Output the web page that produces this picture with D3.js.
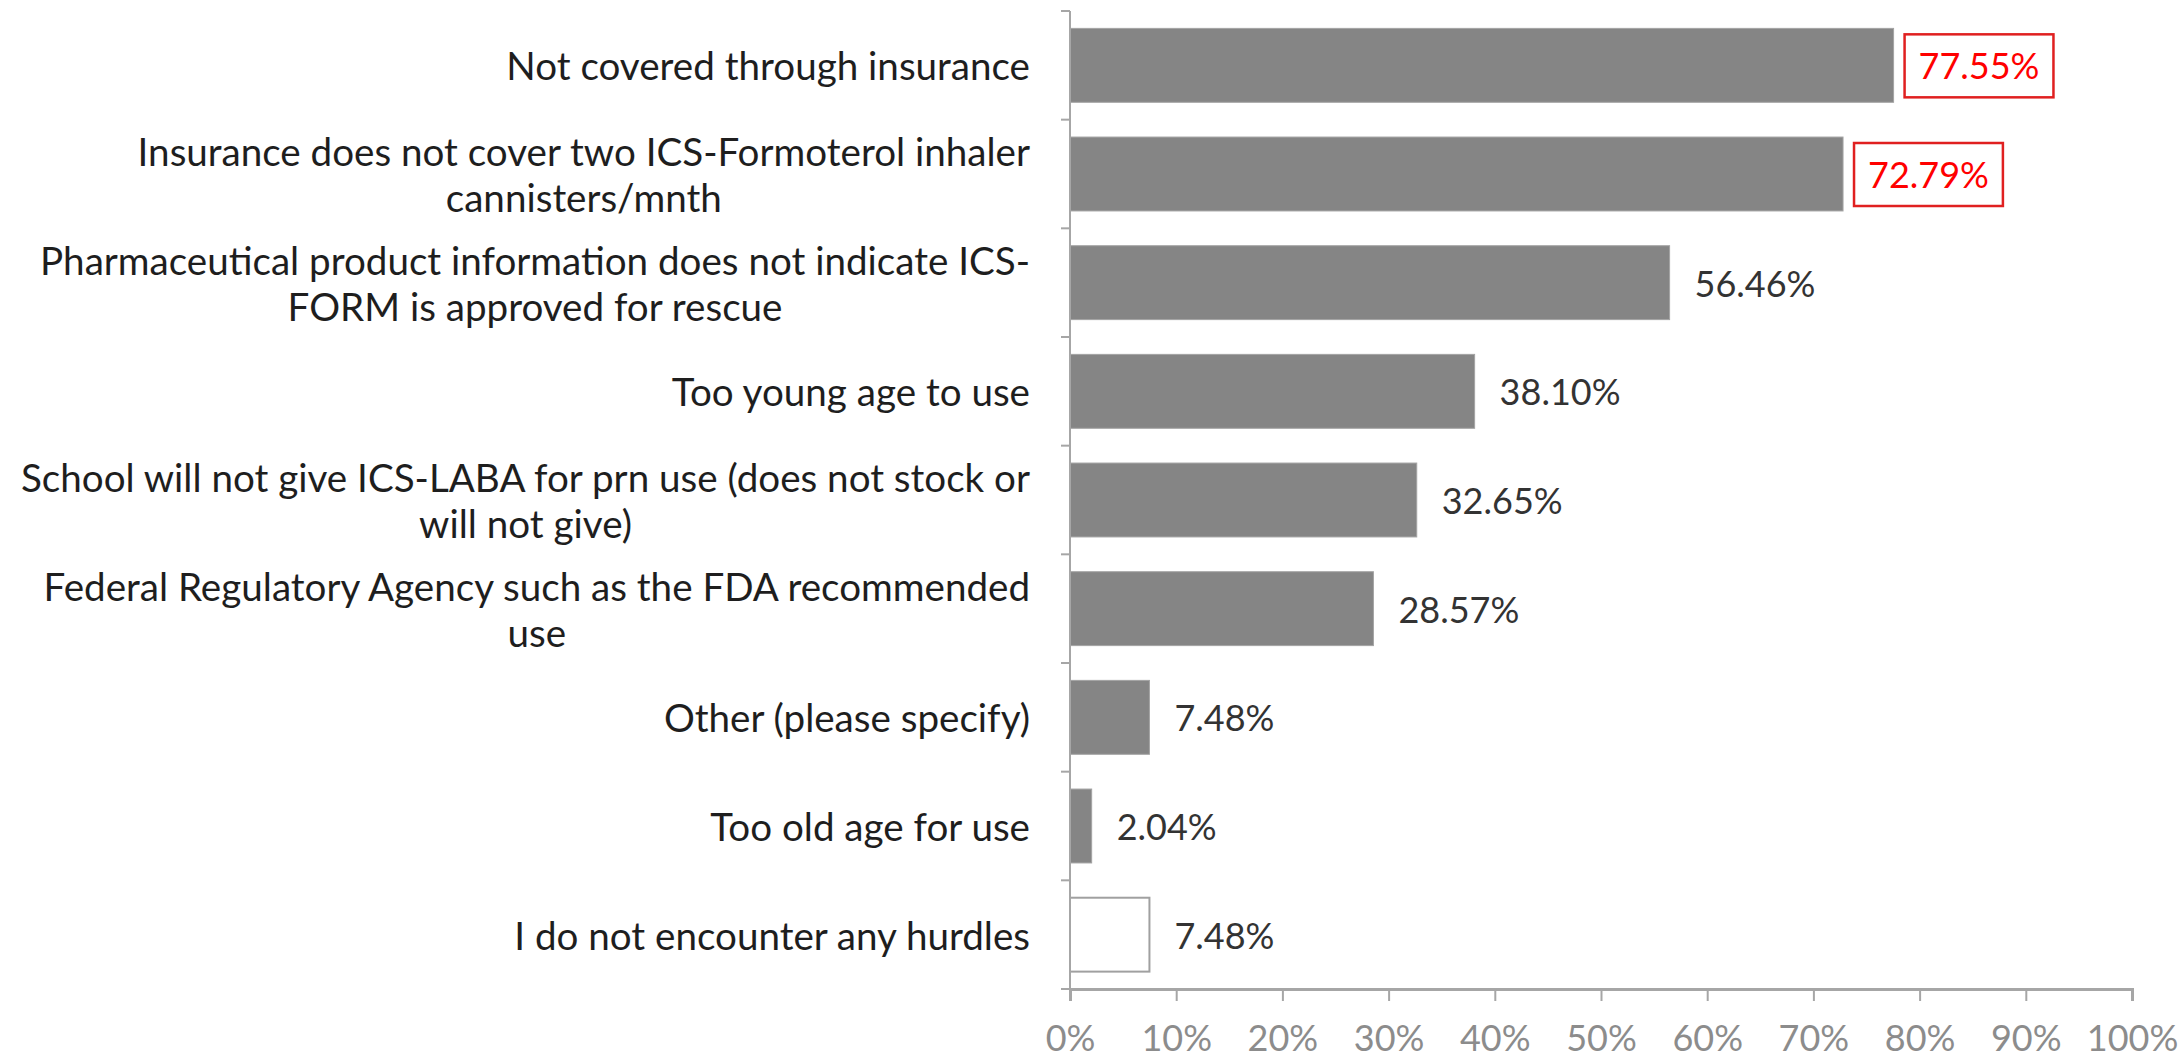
<!DOCTYPE html>
<html>
<head>
<meta charset="utf-8">
<script src="https://cdn.jsdelivr.net/npm/d3@7"></script>
<style>
  html, body { margin: 0; padding: 0; background: #ffffff; }
  svg { display: block; }
</style>
</head>
<body>
<svg id="chart" width="2182" height="1058"></svg>
<script>
// chart data
const categories =
  [
    ['Not covered through insurance'],
    ['Insurance does not cover two ICS-Formoterol inhaler', 'cannisters/mnth'],
    ['Pharmaceutical product information does not indicate ICS-', 'FORM is approved for rescue'],
    ['Too young age to use'],
    ['School will not give ICS-LABA for prn use (does not stock or', 'will not give)'],
    ['Federal Regulatory Agency such as the FDA recommended', 'use'],
    ['Other (please specify)'],
    ['Too old age for use'],
    ['I do not encounter any hurdles']
  ];

const values    = [77.55, 72.79, 56.46, 38.10, 32.65, 28.57, 7.48, 2.04, 7.48];
const boxed     = [true, true, false, false, false, false, false, false, false];
const hollow    = [false, false, false, false, false, false, false, false, true];
const tickLabels = ['0%', '10%', '20%', '30%', '40%', '50%', '60%', '70%', '80%', '90%', '100%'];
const tickValues = [0, 10, 20, 30, 40, 50, 60, 70, 80, 90, 100];


const option =
  {
    font:  { family: 'Lato, "Open Sans", sans-serif', size: 36, color: '#333333' },
    label: { size: 38.6, color: '#1e1e1e', line: 46 },
    plot:  { left: 1070, right: 2132, top: 11, bottom: 989 },
    bar:   { fill: '#858585', stroke: '#a3a3a3', hollow: '#ffffff' },
    axis:  { color: '#a6a6a6', label: '#8c8c8c' }
  };

const svg = d3.select('#chart');

const rows = values.map((v, i) => ({ index: i, lines: categories[i], value: v, boxed: boxed[i], hollow: hollow[i] }));

const x = d3.scaleLinear()
  .domain([0, 100])
  .range([option.plot.left, option.plot.right])
;

const y = d3.scaleBand()
  .domain(rows.map(d => d.index))
  .range([option.plot.top, option.plot.bottom])
  .paddingInner(0.32)
  .paddingOuter(0.16)
;

const step = y.step();

// bars
svg.append('g')
  .selectAll('rect')
  .data(rows)
  .join('rect')
    .attr('x', x(0))
    .attr('y', d => y(d.index))
    .attr('width', d => x(d.value) - x(0))
    .attr('height', y.bandwidth())
    .attr('fill', d => d.hollow ? option.bar.hollow : option.bar.fill)
    .attr('stroke', d => d.hollow ? '#a0a0a0' : option.bar.stroke)
    .attr('stroke-width', d => d.hollow ? 2 : 1)
;

// y axis line + category boundary ticks
const yAxis = svg.append('g');

yAxis.append('line')
  .attr('x1', x(0))
  .attr('x2', x(0))
  .attr('y1', option.plot.top)
  .attr('y2', option.plot.bottom)
  .attr('stroke', option.axis.color)
  .attr('stroke-width', 2)
;

yAxis.selectAll('line.tick')
  .data(d3.range(rows.length + 1))
  .join('line')
    .attr('class', 'tick')
    .attr('x1', x(0) - 9)
    .attr('x2', x(0))
    .attr('y1', i => option.plot.top + i * step)
    .attr('y2', i => option.plot.top + i * step)
    .attr('stroke', option.axis.color)
    .attr('stroke-width', 2)
;

// x axis
const xAxis = svg.append('g')
  .attr('transform', `translate( 0 ${ option.plot.bottom } )`)
  .call(d3.axisBottom(x)
    .tickValues(tickValues)
    .tickFormat((d, i) => tickLabels[i])
    .tickSize(12)
    .tickPadding(24)
  )
;

xAxis.select('.domain')
  .attr('stroke', option.axis.color)
  .attr('stroke-width', 3)
;

xAxis.selectAll('.tick line')
  .attr('stroke', option.axis.color)
  .attr('stroke-width', 2)
;

xAxis.selectAll('.tick text')
  .attr('font-family', option.font.family)
  .attr('font-size', option.font.size)
  .attr('fill', option.axis.label)
;

// category labels: block right-aligned, lines centred in block
const labelRight = x(0) - 40;

const labels = svg.append('g')
  .selectAll('g')
  .data(rows)
  .join('g')
;

labels.each(function (d)
{
  const g = d3.select(this);
  const cy = y(d.index) + y.bandwidth() / 2;

  const texts = g.selectAll('text')
    .data(d.lines)
    .join('text')
      .text(t => t)
      .attr('font-family', option.font.family)
      .attr('font-size', option.label.size)
      .attr('fill', option.label.color)
      .attr('text-anchor', 'middle')
      .attr('dominant-baseline', 'central')
      .attr('y', (t, i) => cy + (i - (d.lines.length - 1) / 2) * option.label.line)
  ;

  const widest = d3.max(texts.nodes(), n => n.getComputedTextLength());

  texts.attr('x', labelRight - widest / 2);
});

// value labels
const values_g = svg.append('g')
  .selectAll('g')
  .data(rows)
  .join('g')
    .attr('transform', d => `translate( ${ x(d.value) + (d.boxed ? 11 : 25) } ${ y(d.index) + y.bandwidth() / 2 } )`)
;

values_g.append('text')
  .text(d => `${ d.value.toFixed(2) }%`)
  .attr('x', d => d.boxed ? 14 : 0)
  .attr('font-family', option.font.family)
  .attr('font-size', option.font.size)
  .attr('fill', d => d.boxed ? '#ff0000' : option.font.color)
  .attr('dominant-baseline', 'central')
;

values_g.filter(d => d.boxed).each(function ()
{
  const g = d3.select(this);
  const w = g.select('text').node().getComputedTextLength();

  g.insert('rect', 'text')
    .attr('x', 0)
    .attr('y', -31)
    .attr('width', w + 28)
    .attr('height', 63)
    .attr('fill', '#ffffff')
    .attr('stroke', '#e02020')
    .attr('stroke-width', 2.5)
  ;
});
</script>
</body>
</html>
